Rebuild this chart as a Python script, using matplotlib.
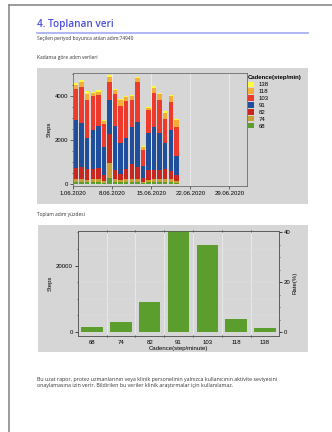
import matplotlib
matplotlib.use('Agg')
import matplotlib.pyplot as plt
import matplotlib.dates as mdates
import matplotlib.patches as patches
import numpy as np
from datetime import datetime, timedelta

# Daily step counts per cadence (1.06.2020 - 19.06.2020)
days = [datetime(2020, 6, d) for d in range(1, 20)]
cadences = ['68', '74', '82', '91', '103', '118', '138']
steps_68 = [80, 80, 70, 70, 80, 50, 250, 80, 70, 70, 80, 80, 30, 70, 80, 80, 70, 80, 50]
steps_74 = [130, 130, 120, 130, 130, 90, 700, 130, 120, 130, 150, 150, 60, 100, 130, 130, 130, 130, 90]
steps_82 = [500, 570, 470, 470, 520, 280, 1300, 420, 270, 470, 650, 550, 170, 450, 420, 420, 470, 370, 280]
steps_91 = [2200, 2000, 1450, 1800, 1900, 1250, 1550, 2000, 1400, 1400, 1700, 2050, 550, 1700, 1950, 1700, 1200, 1850, 850]
steps_103 = [1400, 1650, 1700, 1550, 1400, 1050, 850, 1450, 1700, 1700, 1250, 1800, 750, 1050, 1550, 1500, 1100, 1300, 1300]
steps_118 = [200, 200, 300, 100, 150, 150, 200, 200, 250, 200, 150, 200, 100, 100, 250, 250, 250, 250, 350]
steps_138 = [100, 100, 100, 50, 100, 50, 100, 50, 50, 50, 50, 50, 50, 50, 100, 50, 100, 50, 50]
date_ticks = [datetime(2020, 6, d) for d in (1, 8, 15, 22, 29)]

series = [steps_68, steps_74, steps_82, steps_91, steps_103, steps_118, steps_138]
colors = ['#5c9e2e', '#c9a032', '#c8261f', '#1f4f9c', '#ee3a2c', '#f4ae38', '#fdfb3c']

totals = [sum(s) for s in series]
total_all = sum(totals)

W, H = 332, 432
fig = plt.figure(figsize=(W / 100, H / 100), dpi=100, facecolor='white')
plt.rcParams['font.family'] = ['Liberation Sans', 'DejaVu Sans']
tick_fs = 4.3

# page border
fig.add_artist(plt.Line2D([9 / W, 1], [1 - 5 / H, 1 - 5 / H], color='#8a8a8a', lw=1.2))
fig.add_artist(plt.Line2D([9 / W, 9 / W], [0, 1 - 5 / H], color='#8a8a8a', lw=1.2))

txt_font = ['Open Sans', 'DejaVu Sans']
small_fs = 3.5
para_fs = 3.8
fig.text(37 / W, 1 - 25 / H, '4. Toplanan veri', fontsize=7.2, color='#4b4fe0',
         va='center', family=txt_font, fontweight='semibold')
fig.add_artist(plt.Line2D([37 / W, 308 / W], [1 - 33 / H, 1 - 33 / H], color='#a9b0f2', lw=1.3))
fig.text(37 / W, 1 - 38.5 / H, 'Seçilen periyod boyunca atılan adım:%d' % 74940, fontsize=small_fs,
         color='#333333', va='center', family=txt_font)
fig.text(37 / W, 1 - 58 / H, 'Kadansa göre adım verileri', fontsize=small_fs,
         color='#333333', va='center', family=txt_font)
fig.text(37 / W, 1 - 215 / H, 'Toplam adım yüzdesi', fontsize=small_fs,
         color='#333333', va='center', family=txt_font)
fig.text(37 / W, 1 - 379 / H,
         'Bu uzat rapor, protez uzmanlarının veya klinik personelinin yalnızca kullanıcının aktivite seviyesini',
         fontsize=para_fs, color='#333333', va='center', family=txt_font)
fig.text(37 / W, 1 - 385.5 / H,
         'onaylamasına izin verir. Bildirilen bu veriler klinik araştırmalar için kullanılamaz.',
         fontsize=para_fs, color='#333333', va='center', family=txt_font)

panel_gray = '#d6d6d6'
fig.add_artist(patches.Rectangle((37 / W, 1 - 204 / H), 271 / W, 136 / H,
                                 transform=fig.transFigure, facecolor=panel_gray, edgecolor='none', zorder=0))
fig.add_artist(patches.Rectangle((38 / W, 1 - 352 / H), 270 / W, 127 / H,
                                 transform=fig.transFigure, facecolor=panel_gray, edgecolor='none', zorder=0))

# ---- chart 1: stacked daily bars
ax1 = fig.add_axes([73.3 / W, 1 - 186 / H, 173.4 / W, 113 / H])
ax1.set_facecolor(panel_gray)
x = [d + timedelta(hours=12) for d in days]
bottom = np.zeros(len(days))
handles = []
for s, c, lab in zip(series, colors, cadences):
    b = ax1.bar(x, s, width=0.78, bottom=bottom, color=c, label=lab, zorder=3)
    handles.append(b)
    bottom += np.array(s)
ax1.set_xlim(datetime(2020, 6, 1), datetime(2020, 7, 2, 3))
ax1.set_ylim(-100, 5050)
ax1.set_xticks(date_ticks)
ax1.xaxis.set_major_formatter(mdates.DateFormatter('%-d.%m.%Y'))
ax1.set_yticks([0, 2000, 4000])
ax1.set_yticks(np.arange(0, 5001, 500), minor=True)
ax1.grid(axis='x', color='#f2f2f2', lw=0.5, zorder=0)
ax1.tick_params(labelsize=tick_fs, length=2, width=0.5, pad=1.5, color='#333333')
ax1.tick_params(which='minor', length=1, width=0.4)
ax1.set_ylabel('Steps', fontsize=tick_fs, labelpad=2)
for sp in ax1.spines.values():
    sp.set_linewidth(0.5)
    sp.set_color('#555555')
leg = ax1.legend(handles[::-1], cadences[::-1], title='Cadence(step/min)', loc='upper left',
                 bbox_to_anchor=(0.995, 1.0), fontsize=tick_fs, title_fontsize=tick_fs, frameon=False,
                 handlelength=1.0, handleheight=1.0, handletextpad=0.8, labelspacing=0.2,
                 borderpad=0.2, borderaxespad=0.2)
leg.get_title().set_fontweight('bold')
leg._legend_box.align = 'left'

# ---- chart 2: total steps per cadence
ax2 = fig.add_axes([77.7 / W, 1 - 336 / H, 201.6 / W, 105.3 / H])
ax2.set_facecolor(panel_gray)
pos = np.arange(len(cadences))
ax2.bar(pos, totals, width=0.74, color='#5c9e2e', zorder=3)
ax2.set_xlim(-0.5, len(cadences) - 0.5)
ax2.set_ylim(-total_all * 0.016, max(totals))
ax2.set_xticks(pos[:-1] + 0.5)
ax2.set_xticklabels([])
ax2.set_xticks(pos, minor=True)
ax2.set_xticklabels(cadences, minor=True)
ax2.tick_params(axis='x', which='minor', length=0, labelsize=tick_fs, pad=3)
ax2.tick_params(axis='x', which='major', length=2, width=0.5, top=True, direction='inout')
ax2.set_yticks([0, 20000])
ax2.set_yticks(np.arange(0, 30001, 5000), minor=True)
ax2.tick_params(axis='y', labelsize=tick_fs, length=2, width=0.5, pad=1.5)
ax2.tick_params(axis='y', which='minor', length=1, width=0.4)
ax2.grid(axis='x', which='major', color='#efefef', lw=0.5, zorder=0)
ax2.grid(axis='y', which='minor', color='#e2e2e2', lw=0.3, zorder=0)
ax2.set_ylabel('Steps', fontsize=tick_fs, labelpad=2)
ax2.set_xlabel('Cadence(step/minute)', fontsize=tick_fs, labelpad=0.3)
for sp in ax2.spines.values():
    sp.set_linewidth(0.5)
    sp.set_color('#555555')

ax3 = ax2.twinx()
lo, hi = ax2.get_ylim()
ax3.set_ylim(lo / total_all * 100, hi / total_all * 100)
ax3.set_yticks([0, 20, 40])
ax3.set_yticks(np.arange(0, 41, 5), minor=True)
ax3.tick_params(axis='y', labelsize=tick_fs, length=2, width=0.5, pad=1.5)
ax3.tick_params(axis='y', which='minor', length=1, width=0.4)
ax3.set_ylabel('Rate(%)', fontsize=tick_fs, labelpad=1)
for sp in ax3.spines.values():
    sp.set_linewidth(0.5)
    sp.set_color('#555555')

fig.savefig('out.png', dpi=100, facecolor='white')
